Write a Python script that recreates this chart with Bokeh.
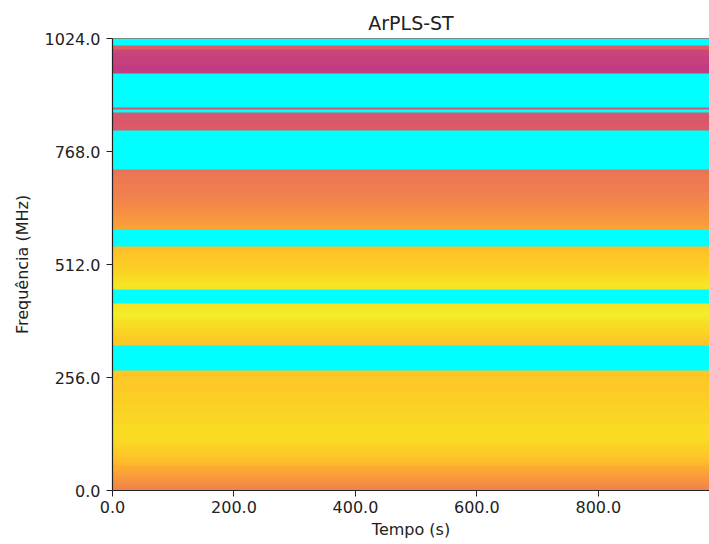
import numpy as np
from bokeh.plotting import figure
from bokeh.models import LinearColorMapper, FixedTicker, PrintfTickFormatter, Span, Range1d
from bokeh.palettes import Plasma256
from bokeh.embed import file_html
from bokeh.resources import INLINE

# Observation grid
time_end = 1000.0          # s
freq_max = 1024.0          # MHz
chan_width = 4.0           # MHz per channel
n_chan = int(freq_max / chan_width)

# Normalized ArPLS-ST power per unflagged band, 8 MHz samples, low -> high frequency
band_0_272 = [0.70, 0.72, 0.74, 0.76, 0.78, 0.80, 0.82, 0.84, 0.86, 0.88,
              0.89, 0.90, 0.91, 0.92, 0.93, 0.93, 0.93, 0.93, 0.93, 0.92,
              0.92, 0.92, 0.91, 0.91, 0.91, 0.90, 0.90, 0.90, 0.89, 0.89,
              0.89, 0.89, 0.88, 0.88]
band_328_424 = [0.88, 0.89, 0.90, 0.91, 0.92, 0.93, 0.94, 0.96, 0.97, 0.97, 0.96, 0.95]
band_456_552 = [0.95, 0.95, 0.94, 0.93, 0.92, 0.91, 0.90, 0.89, 0.89, 0.88, 0.87, 0.86]
band_592_728 = [0.79, 0.77, 0.76, 0.75, 0.74, 0.73, 0.72, 0.71, 0.70, 0.69,
                0.69, 0.68, 0.68, 0.67, 0.67, 0.66, 0.65]
band_816_856 = [0.57, 0.57, 0.56, 0.56, 0.56]
chan_864_868 = [0.55]
band_944_1008 = [0.47, 0.46, 0.47, 0.48, 0.48, 0.49, 0.51, 0.58]

# (start frequency MHz, values, MHz per value); everything else is flagged (NaN)
segments = [
    (0, band_0_272, 8),
    (328, band_328_424, 8),
    (456, band_456_552, 8),
    (592, band_592_728, 8),
    (816, band_816_856, 8),
    (864, chan_864_868, 4),
    (944, band_944_1008, 8),
]

spectrum = np.full(n_chan, np.nan)
for start, vals, step in segments:
    i0 = int(start / chan_width)
    block = np.repeat(np.asarray(vals, dtype=float), int(step / chan_width))
    spectrum[i0:i0 + len(block)] = block

waterfall = spectrum[:, None]  # constant over time

x_ticks = [0, 200, 400, 600, 800]
y_ticks = [0, 256, 512, 768, 1024]

FONT = "DejaVu Sans"
INK = "#222222"

mapper = LinearColorMapper(palette=Plasma256, low=0.0, high=1.0, nan_color="#00ffff")

p = figure(
    width=709, height=544,
    x_range=Range1d(0, 983), y_range=Range1d(0, freq_max),
    title="ArPLS-ST",
    output_backend="svg", toolbar_location=None,
    min_border_left=112, min_border_right=0,
    min_border_top=38, min_border_bottom=54,
)
p.image(image=[waterfall], x=0, y=0, dw=time_end, dh=freq_max, color_mapper=mapper)

p.title.text_font = FONT
p.title.text_font_size = "19px"
p.title.text_font_style = "normal"
p.title.text_color = INK
p.title.align = "center"

p.grid.visible = False
p.outline_line_color = None
p.background_fill_color = "white"
p.border_fill_color = "white"

# top spine
p.add_layout(Span(location=freq_max, dimension="width", line_color=INK, line_width=1.2))

for ax, ticks in ((p.xaxis[0], x_ticks), (p.yaxis[0], y_ticks)):
    ax.ticker = FixedTicker(ticks=ticks)
    ax.formatter = PrintfTickFormatter(format="%.1f")
    ax.minor_tick_line_color = None
    ax.major_tick_in = 0
    ax.major_tick_out = 6
    ax.major_tick_line_color = INK
    ax.axis_line_color = INK
    ax.axis_line_width = 1.2
    ax.major_label_text_font = FONT
    ax.major_label_text_font_size = "16px"
    ax.major_label_text_color = INK
    ax.axis_label_text_font = FONT
    ax.axis_label_text_font_size = "16px"
    ax.axis_label_text_font_style = "normal"
    ax.axis_label_text_color = INK

p.xaxis.axis_label = "Tempo (s)"
p.yaxis.axis_label = "Frequência (MHz)"
p.xaxis.major_label_standoff = 4
p.yaxis.major_label_standoff = 6
p.xaxis.axis_label_standoff = 4
p.yaxis.axis_label_standoff = 10

open("out.html", "w").write(file_html(p, INLINE))
